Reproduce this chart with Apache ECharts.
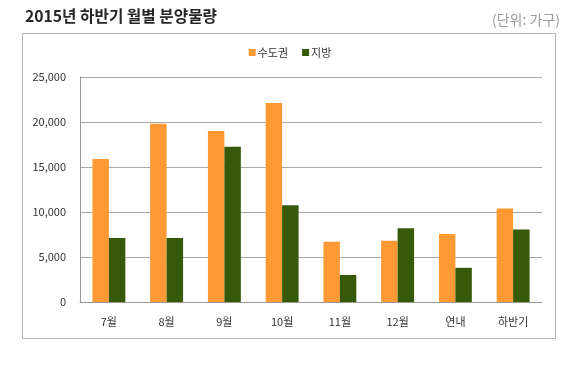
<!DOCTYPE html>
<html><head><meta charset="utf-8">
<script src="https://cdn.jsdelivr.net/npm/echarts@6/dist/echarts.min.js"></script>
<style>html,body{margin:0;padding:0;background:#fff}#c{width:580px;height:378px}</style>
</head><body><div id="c"></div>
<script>
const categories = ['7월','8월','9월','10월','11월','12월','연내','하반기'];
const metro = [15900, 19800, 19000, 22100, 6700, 6800, 7550, 10400];
const local = [7100, 7100, 17250, 10750, 3000, 8200, 3800, 8050];
const seriesNames = ['수도권','지방'];
const yTicks = [0, 5000, 10000, 15000, 20000, 25000];
const font = '"Noto Sans CJK KR", "Noto Sans", sans-serif';
const chart = echarts.init(document.getElementById('c'));
chart.setOption({
  animation: false,
  textStyle: {fontFamily: font},
  title: {text: '2015년 하반기 월별 분양물량', left: 20, top: 3,
    textStyle: {fontSize: 15.7, fontWeight: 'bold', color: '#262626', fontFamily: font}},
  graphic: [
    {type: 'rect', shape: {x: 22.5, y: 33.5, width: 533, height: 305}, silent: true,
      style: {fill: 'none', stroke: '#b5b5b5', lineWidth: 1}},
    {type: 'text', right: 20, top: 13, style: {text: '(단위: 가구)', fill: '#9a9a9a', fontSize: 14, fontFamily: font}}
  ],
  legend: {data: seriesNames, top: 42, left: 'center', itemWidth: 7, itemHeight: 7, itemGap: 14,
    icon: 'rect', textStyle: {fontSize: 11, color: '#333', padding: [0,0,0,-3]}},
  grid: {left: 80, right: 38, top: 77, bottom: 76},
  xAxis: {type: 'category', data: categories,
    axisLine: {lineStyle: {color: '#999'}}, axisTick: {show: false},
    axisLabel: {fontSize: 11, color: '#333', margin: 14}},
  yAxis: {type: 'value', min: yTicks[0], max: yTicks[yTicks.length-1], interval: 5000,
    axisLine: {show: true, lineStyle: {color: '#999'}},
    axisTick: {show: false},
    splitLine: {lineStyle: {color: '#a8a8a8'}},
    axisLabel: {fontSize: 11, color: '#333', margin: 14,
      formatter: v => v.toLocaleString('en-US')}},
  series: [
    {name: seriesNames[0], type: 'bar', data: metro, barGap: '0%', barCategoryGap: '43%',
      itemStyle: {color: '#FF9933'}},
    {name: seriesNames[1], type: 'bar', data: local, itemStyle: {color: '#375A0A'}}
  ]
});
</script></body></html>
